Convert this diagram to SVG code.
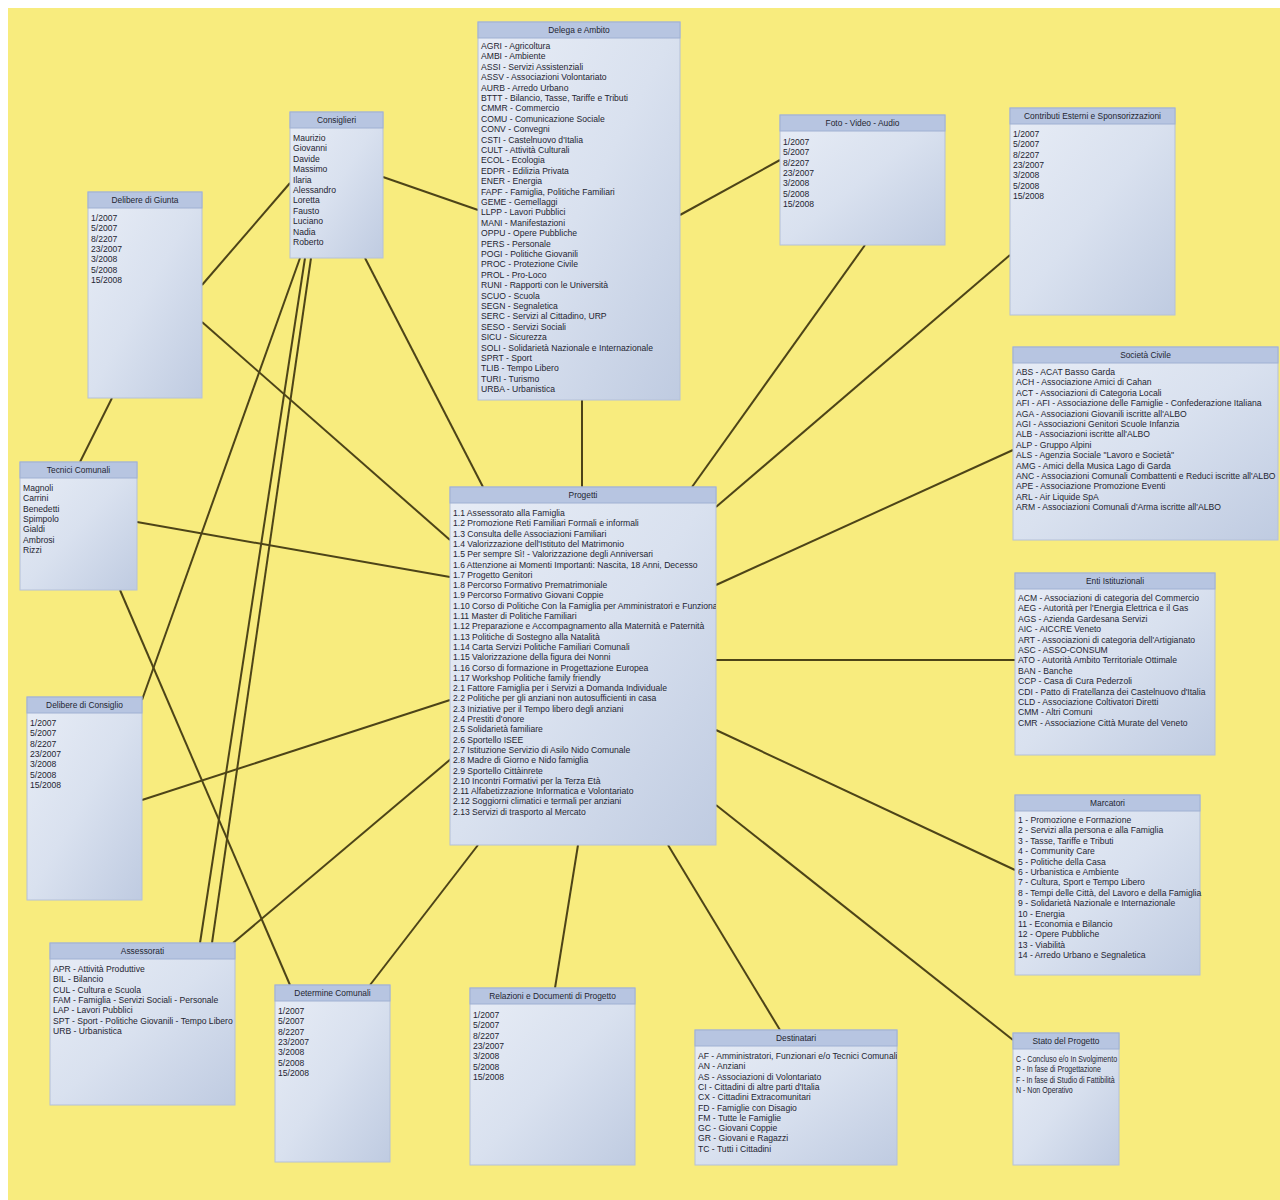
<svg xmlns="http://www.w3.org/2000/svg" width="1280" height="1200" viewBox="0 0 1280 1200">
<style>
.box{fill:url(#bg);stroke:#b4c0d8;stroke-width:1}
.hd{fill:#b7c5e1;stroke:#9fb0d2;stroke-width:1}
.tt{font-family:"Liberation Sans",Arial,sans-serif;font-size:8.4px;fill:#1f2531;text-anchor:middle}
.it{font-family:"Liberation Sans",Arial,sans-serif;font-size:8.6px;fill:#1f2531}
.cn line{stroke:#4d4418;stroke-width:2}
</style>
<defs>
<linearGradient id="bg" x1="0" y1="0" x2="1" y2="1">
<stop offset="0" stop-color="#e8edf6"/>
<stop offset="0.5" stop-color="#d9e1ef"/>
<stop offset="1" stop-color="#bfcbe1"/>
</linearGradient>
<clipPath id="cpP"><rect x="450" y="487" width="266" height="358"/></clipPath>
<clipPath id="cpD"><rect x="695" y="1030" width="202" height="135"/></clipPath>
<clipPath id="cpS"><rect x="1013" y="347" width="265" height="193"/></clipPath>
</defs>
<rect width="1280" height="1200" fill="#ffffff"/>
<rect x="8" y="8" width="1272" height="1192" fill="#f8ec7e"/>

<g class="cn">
<line x1="383" y1="177" x2="478" y2="210"/>
<line x1="290" y1="183" x2="202" y2="285"/>
<line x1="365" y1="258" x2="483" y2="487"/>
<line x1="300" y1="258" x2="142" y2="700"/>
<line x1="305" y1="258" x2="200" y2="943"/>
<line x1="311" y1="258" x2="212" y2="943"/>
<line x1="202" y1="322" x2="450" y2="540"/>
<line x1="80" y1="462" x2="112" y2="398"/>
<line x1="137" y1="522" x2="450" y2="577"/>
<line x1="120" y1="590" x2="290" y2="985"/>
<line x1="142" y1="800" x2="450" y2="700"/>
<line x1="233" y1="943" x2="452" y2="758"/>
<line x1="370" y1="985" x2="478" y2="845"/>
<line x1="555" y1="988" x2="578" y2="845"/>
<line x1="780" y1="1030" x2="668" y2="845"/>
<line x1="1013" y1="1040" x2="716" y2="805"/>
<line x1="1015" y1="870" x2="716" y2="730"/>
<line x1="1015" y1="660" x2="716" y2="660"/>
<line x1="1013" y1="450" x2="716" y2="585"/>
<line x1="1010" y1="255" x2="716" y2="507"/>
<line x1="865" y1="245" x2="692" y2="487"/>
<line x1="780" y1="160" x2="680" y2="215"/>
<line x1="582" y1="400" x2="582" y2="487"/>
</g>

<g id="delega">
<rect class="box" x="478" y="22" width="202" height="378"/>
<rect class="hd" x="478" y="22" width="202" height="16"/>
<text class="tt" x="579" y="33">Delega e Ambito</text>
<text class="it" x="481" y="49"><tspan x="481">AGRI - Agricoltura</tspan><tspan x="481" dy="10.4">AMBI - Ambiente</tspan><tspan x="481" dy="10.4">ASSI - Servizi Assistenziali</tspan><tspan x="481" dy="10.4">ASSV - Associazioni Volontariato</tspan><tspan x="481" dy="10.4">AURB - Arredo Urbano</tspan><tspan x="481" dy="10.4">BTTT - Bilancio, Tasse, Tariffe e Tributi</tspan><tspan x="481" dy="10.4">CMMR - Commercio</tspan><tspan x="481" dy="10.4">COMU - Comunicazione Sociale</tspan><tspan x="481" dy="10.4">CONV - Convegni</tspan><tspan x="481" dy="10.4">CSTI - Castelnuovo d'Italia</tspan><tspan x="481" dy="10.4">CULT - Attività Culturali</tspan><tspan x="481" dy="10.4">ECOL - Ecologia</tspan><tspan x="481" dy="10.4">EDPR - Edilizia Privata</tspan><tspan x="481" dy="10.4">ENER - Energia</tspan><tspan x="481" dy="10.4">FAPF - Famiglia, Politiche Familiari</tspan><tspan x="481" dy="10.4">GEME - Gemellaggi</tspan><tspan x="481" dy="10.4">LLPP - Lavori Pubblici</tspan><tspan x="481" dy="10.4">MANI - Manifestazioni</tspan><tspan x="481" dy="10.4">OPPU - Opere Pubbliche</tspan><tspan x="481" dy="10.4">PERS - Personale</tspan><tspan x="481" dy="10.4">POGI - Politiche Giovanili</tspan><tspan x="481" dy="10.4">PROC - Protezione Civile</tspan><tspan x="481" dy="10.4">PROL - Pro-Loco</tspan><tspan x="481" dy="10.4">RUNI - Rapporti con le Università</tspan><tspan x="481" dy="10.4">SCUO - Scuola</tspan><tspan x="481" dy="10.4">SEGN - Segnaletica</tspan><tspan x="481" dy="10.4">SERC - Servizi al Cittadino, URP</tspan><tspan x="481" dy="10.4">SESO - Servizi Sociali</tspan><tspan x="481" dy="10.4">SICU - Sicurezza</tspan><tspan x="481" dy="10.4">SOLI - Solidarietà Nazionale e Internazionale</tspan><tspan x="481" dy="10.4">SPRT - Sport</tspan><tspan x="481" dy="10.4">TLIB - Tempo Libero</tspan><tspan x="481" dy="10.4">TURI - Turismo</tspan><tspan x="481" dy="10.4">URBA - Urbanistica</tspan></text>
</g>

<g id="consiglieri">
<rect class="box" x="290" y="112" width="93" height="146"/>
<rect class="hd" x="290" y="112" width="93" height="16"/>
<text class="tt" x="336.5" y="123">Consiglieri</text>
<text class="it" x="293" y="141"><tspan x="293">Maurizio</tspan><tspan x="293" dy="10.4">Giovanni</tspan><tspan x="293" dy="10.4">Davide</tspan><tspan x="293" dy="10.4">Massimo</tspan><tspan x="293" dy="10.4">Ilaria</tspan><tspan x="293" dy="10.4">Alessandro</tspan><tspan x="293" dy="10.4">Loretta</tspan><tspan x="293" dy="10.4">Fausto</tspan><tspan x="293" dy="10.4">Luciano</tspan><tspan x="293" dy="10.4">Nadia</tspan><tspan x="293" dy="10.4">Roberto</tspan></text>
</g>

<g id="giunta">
<rect class="box" x="88" y="192" width="114" height="206"/>
<rect class="hd" x="88" y="192" width="114" height="16"/>
<text class="tt" x="145" y="203">Delibere di Giunta</text>
<text class="it" x="91" y="221"><tspan x="91">1/2007</tspan><tspan x="91" dy="10.3">5/2007</tspan><tspan x="91" dy="10.3">8/2207</tspan><tspan x="91" dy="10.3">23/2007</tspan><tspan x="91" dy="10.3">3/2008</tspan><tspan x="91" dy="10.3">5/2008</tspan><tspan x="91" dy="10.3">15/2008</tspan></text>
</g>

<g id="foto">
<rect class="box" x="780" y="115" width="165" height="130"/>
<rect class="hd" x="780" y="115" width="165" height="16"/>
<text class="tt" x="862.5" y="126">Foto - Video - Audio</text>
<text class="it" x="783" y="145"><tspan x="783">1/2007</tspan><tspan x="783" dy="10.3">5/2007</tspan><tspan x="783" dy="10.3">8/2207</tspan><tspan x="783" dy="10.3">23/2007</tspan><tspan x="783" dy="10.3">3/2008</tspan><tspan x="783" dy="10.3">5/2008</tspan><tspan x="783" dy="10.3">15/2008</tspan></text>
</g>

<g id="contributi">
<rect class="box" x="1010" y="108" width="165" height="207"/>
<rect class="hd" x="1010" y="108" width="165" height="16"/>
<text class="tt" x="1092.5" y="119">Contributi Esterni e Sponsorizzazioni</text>
<text class="it" x="1013" y="137"><tspan x="1013">1/2007</tspan><tspan x="1013" dy="10.3">5/2007</tspan><tspan x="1013" dy="10.3">8/2207</tspan><tspan x="1013" dy="10.3">23/2007</tspan><tspan x="1013" dy="10.3">3/2008</tspan><tspan x="1013" dy="10.3">5/2008</tspan><tspan x="1013" dy="10.3">15/2008</tspan></text>
</g>

<g id="societa">
<rect class="box" x="1013" y="347" width="265" height="193"/>
<rect class="hd" x="1013" y="347" width="265" height="16"/>
<text class="tt" x="1145.5" y="358">Società Civile</text>
<text class="it" x="1016" y="375" clip-path="url(#cpS)"><tspan x="1016">ABS - ACAT Basso Garda</tspan><tspan x="1016" dy="10.4">ACH - Associazione Amici di Cahan</tspan><tspan x="1016" dy="10.4">ACT - Associazioni di Categoria Locali</tspan><tspan x="1016" dy="10.4">AFI - AFI - Associazione delle Famiglie - Confederazione Italiana</tspan><tspan x="1016" dy="10.4">AGA - Associazioni Giovanili iscritte all'ALBO</tspan><tspan x="1016" dy="10.4">AGI - Associazioni Genitori Scuole Infanzia</tspan><tspan x="1016" dy="10.4">ALB - Associazioni iscritte all'ALBO</tspan><tspan x="1016" dy="10.4">ALP - Gruppo Alpini</tspan><tspan x="1016" dy="10.4">ALS - Agenzia Sociale "Lavoro e Società"</tspan><tspan x="1016" dy="10.4">AMG - Amici della Musica Lago di Garda</tspan><tspan x="1016" dy="10.4">ANC - Associazioni Comunali Combattenti e Reduci iscritte all'ALBO</tspan><tspan x="1016" dy="10.4">APE - Associazione Promozione Eventi</tspan><tspan x="1016" dy="10.4">ARL - Air Liquide SpA</tspan><tspan x="1016" dy="10.4">ARM - Associazioni Comunali d'Arma iscritte all'ALBO</tspan></text>
</g>

<g id="progetti">
<rect class="box" x="450" y="487" width="266" height="358"/>
<rect class="hd" x="450" y="487" width="266" height="16"/>
<text class="tt" x="583" y="498">Progetti</text>
<text class="it" x="453" y="516" clip-path="url(#cpP)"><tspan x="453">1.1 Assessorato alla Famiglia</tspan><tspan x="453" dy="10.3">1.2 Promozione Reti Familiari Formali e informali</tspan><tspan x="453" dy="10.3">1.3 Consulta delle Associazioni Familiari</tspan><tspan x="453" dy="10.3">1.4 Valorizzazione dell'Istituto del Matrimonio</tspan><tspan x="453" dy="10.3">1.5 Per sempre Sì! - Valorizzazione degli Anniversari</tspan><tspan x="453" dy="10.3">1.6 Attenzione ai Momenti Importanti: Nascita, 18 Anni, Decesso</tspan><tspan x="453" dy="10.3">1.7 Progetto Genitori</tspan><tspan x="453" dy="10.3">1.8 Percorso Formativo Prematrimoniale</tspan><tspan x="453" dy="10.3">1.9 Percorso Formativo Giovani Coppie</tspan><tspan x="453" dy="10.3">1.10 Corso di Politiche Con la Famiglia per Amministratori e Funzionari</tspan><tspan x="453" dy="10.3">1.11 Master di Politiche Familiari</tspan><tspan x="453" dy="10.3">1.12 Preparazione e Accompagnamento alla Maternità e Paternità</tspan><tspan x="453" dy="10.3">1.13 Politiche di Sostegno alla Natalità</tspan><tspan x="453" dy="10.3">1.14 Carta Servizi Politiche Familiari Comunali</tspan><tspan x="453" dy="10.3">1.15 Valorizzazione della figura dei Nonni</tspan><tspan x="453" dy="10.3">1.16 Corso di formazione in Progettazione Europea</tspan><tspan x="453" dy="10.3">1.17 Workshop Politiche family friendly</tspan><tspan x="453" dy="10.3">2.1 Fattore Famiglia per i Servizi a Domanda Individuale</tspan><tspan x="453" dy="10.3">2.2 Politiche per gli anziani non autosufficienti in casa</tspan><tspan x="453" dy="10.3">2.3 Iniziative per il Tempo libero degli anziani</tspan><tspan x="453" dy="10.3">2.4 Prestiti d'onore</tspan><tspan x="453" dy="10.3">2.5 Solidarietà familiare</tspan><tspan x="453" dy="10.3">2.6 Sportello ISEE</tspan><tspan x="453" dy="10.3">2.7 Istituzione Servizio di Asilo Nido Comunale</tspan><tspan x="453" dy="10.3">2.8 Madre di Giorno e Nido famiglia</tspan><tspan x="453" dy="10.3">2.9 Sportello Cittàinrete</tspan><tspan x="453" dy="10.3">2.10 Incontri Formativi per la Terza Età</tspan><tspan x="453" dy="10.3">2.11 Alfabetizzazione Informatica e Volontariato</tspan><tspan x="453" dy="10.3">2.12 Soggiorni climatici e termali per anziani</tspan><tspan x="453" dy="10.3">2.13 Servizi di trasporto al Mercato</tspan></text>
</g>

<g id="enti">
<rect class="box" x="1015" y="573" width="200" height="182"/>
<rect class="hd" x="1015" y="573" width="200" height="16"/>
<text class="tt" x="1115" y="584">Enti Istituzionali</text>
<text class="it" x="1018" y="601"><tspan x="1018">ACM - Associazioni di categoria del Commercio</tspan><tspan x="1018" dy="10.4">AEG - Autorità per l'Energia Elettrica e il Gas</tspan><tspan x="1018" dy="10.4">AGS - Azienda Gardesana Servizi</tspan><tspan x="1018" dy="10.4">AIC - AICCRE Veneto</tspan><tspan x="1018" dy="10.4">ART - Associazioni di categoria dell'Artigianato</tspan><tspan x="1018" dy="10.4">ASC - ASSO-CONSUM</tspan><tspan x="1018" dy="10.4">ATO - Autorità Ambito Territoriale Ottimale</tspan><tspan x="1018" dy="10.4">BAN - Banche</tspan><tspan x="1018" dy="10.4">CCP - Casa di Cura Pederzoli</tspan><tspan x="1018" dy="10.4">CDI - Patto di Fratellanza dei Castelnuovo d'Italia</tspan><tspan x="1018" dy="10.4">CLD - Associazione Coltivatori Diretti</tspan><tspan x="1018" dy="10.4">CMM - Altri Comuni</tspan><tspan x="1018" dy="10.4">CMR - Associazione Città Murate del Veneto</tspan></text>
</g>

<g id="marcatori">
<rect class="box" x="1015" y="795" width="185" height="180"/>
<rect class="hd" x="1015" y="795" width="185" height="16"/>
<text class="tt" x="1107.5" y="806">Marcatori</text>
<text class="it" x="1018" y="823"><tspan x="1018">1 - Promozione e Formazione</tspan><tspan x="1018" dy="10.4">2 - Servizi alla persona e alla Famiglia</tspan><tspan x="1018" dy="10.4">3 - Tasse, Tariffe e Tributi</tspan><tspan x="1018" dy="10.4">4 - Community Care</tspan><tspan x="1018" dy="10.4">5 - Politiche della Casa</tspan><tspan x="1018" dy="10.4">6 - Urbanistica e Ambiente</tspan><tspan x="1018" dy="10.4">7 - Cultura, Sport e Tempo Libero</tspan><tspan x="1018" dy="10.4">8 - Tempi delle Città, del Lavoro e della Famiglia</tspan><tspan x="1018" dy="10.4">9 - Solidarietà Nazionale e Internazionale</tspan><tspan x="1018" dy="10.4">10 - Energia</tspan><tspan x="1018" dy="10.4">11 - Economia e Bilancio</tspan><tspan x="1018" dy="10.4">12 - Opere Pubbliche</tspan><tspan x="1018" dy="10.4">13 - Viabilità</tspan><tspan x="1018" dy="10.4">14 - Arredo Urbano e Segnaletica</tspan></text>
</g>

<g id="tecnici">
<rect class="box" x="20" y="462" width="117" height="128"/>
<rect class="hd" x="20" y="462" width="117" height="16"/>
<text class="tt" x="78.5" y="473">Tecnici Comunali</text>
<text class="it" x="23" y="491"><tspan x="23">Magnoli</tspan><tspan x="23" dy="10.3">Carrini</tspan><tspan x="23" dy="10.3">Benedetti</tspan><tspan x="23" dy="10.3">Spimpolo</tspan><tspan x="23" dy="10.3">Gialdi</tspan><tspan x="23" dy="10.3">Ambrosi</tspan><tspan x="23" dy="10.3">Rizzi</tspan></text>
</g>

<g id="consiglio">
<rect class="box" x="27" y="697" width="115" height="203"/>
<rect class="hd" x="27" y="697" width="115" height="16"/>
<text class="tt" x="84.5" y="708">Delibere di Consiglio</text>
<text class="it" x="30" y="726"><tspan x="30">1/2007</tspan><tspan x="30" dy="10.3">5/2007</tspan><tspan x="30" dy="10.3">8/2207</tspan><tspan x="30" dy="10.3">23/2007</tspan><tspan x="30" dy="10.3">3/2008</tspan><tspan x="30" dy="10.3">5/2008</tspan><tspan x="30" dy="10.3">15/2008</tspan></text>
</g>

<g id="assessorati">
<rect class="box" x="50" y="943" width="185" height="162"/>
<rect class="hd" x="50" y="943" width="185" height="16"/>
<text class="tt" x="142.5" y="954">Assessorati</text>
<text class="it" x="53" y="972"><tspan x="53">APR - Attività Produttive</tspan><tspan x="53" dy="10.3">BIL - Bilancio</tspan><tspan x="53" dy="10.3">CUL - Cultura e Scuola</tspan><tspan x="53" dy="10.3">FAM - Famiglia - Servizi Sociali - Personale</tspan><tspan x="53" dy="10.3">LAP - Lavori Pubblici</tspan><tspan x="53" dy="10.3">SPT - Sport - Politiche Giovanili - Tempo Libero</tspan><tspan x="53" dy="10.3">URB - Urbanistica</tspan></text>
</g>

<g id="determine">
<rect class="box" x="275" y="985" width="115" height="177"/>
<rect class="hd" x="275" y="985" width="115" height="16"/>
<text class="tt" x="332.5" y="996">Determine Comunali</text>
<text class="it" x="278" y="1014"><tspan x="278">1/2007</tspan><tspan x="278" dy="10.3">5/2007</tspan><tspan x="278" dy="10.3">8/2207</tspan><tspan x="278" dy="10.3">23/2007</tspan><tspan x="278" dy="10.3">3/2008</tspan><tspan x="278" dy="10.3">5/2008</tspan><tspan x="278" dy="10.3">15/2008</tspan></text>
</g>

<g id="relazioni">
<rect class="box" x="470" y="988" width="165" height="177"/>
<rect class="hd" x="470" y="988" width="165" height="16"/>
<text class="tt" x="552.5" y="999">Relazioni e Documenti di Progetto</text>
<text class="it" x="473" y="1018"><tspan x="473">1/2007</tspan><tspan x="473" dy="10.3">5/2007</tspan><tspan x="473" dy="10.3">8/2207</tspan><tspan x="473" dy="10.3">23/2007</tspan><tspan x="473" dy="10.3">3/2008</tspan><tspan x="473" dy="10.3">5/2008</tspan><tspan x="473" dy="10.3">15/2008</tspan></text>
</g>

<g id="destinatari">
<rect class="box" x="695" y="1030" width="202" height="135"/>
<rect class="hd" x="695" y="1030" width="202" height="16"/>
<text class="tt" x="796" y="1041">Destinatari</text>
<text class="it" x="698" y="1059" clip-path="url(#cpD)"><tspan x="698">AF - Amministratori, Funzionari e/o Tecnici Comunali</tspan><tspan x="698" dy="10.3">AN - Anziani</tspan><tspan x="698" dy="10.3">AS - Associazioni di Volontariato</tspan><tspan x="698" dy="10.3">CI - Cittadini di altre parti d'Italia</tspan><tspan x="698" dy="10.3">CX - Cittadini Extracomunitari</tspan><tspan x="698" dy="10.3">FD - Famiglie con Disagio</tspan><tspan x="698" dy="10.3">FM - Tutte le Famiglie</tspan><tspan x="698" dy="10.3">GC - Giovani Coppie</tspan><tspan x="698" dy="10.3">GR - Giovani e Ragazzi</tspan><tspan x="698" dy="10.3">TC - Tutti i Cittadini</tspan></text>
</g>

<g id="stato">
<rect class="box" x="1013" y="1033" width="106" height="132"/>
<rect class="hd" x="1013" y="1033" width="106" height="16"/>
<text class="tt" x="1066" y="1044">Stato del Progetto</text>
<text class="it" x="1016" y="1062" transform="translate(1016 0) scale(0.82 1) translate(-1016 0)"><tspan x="1016">C - Concluso e/o In Svolgimento</tspan><tspan x="1016" dy="10.3">P - In fase di Progettazione</tspan><tspan x="1016" dy="10.3">F - In fase di Studio di Fattibilità</tspan><tspan x="1016" dy="10.3">N - Non Operativo</tspan></text>
</g>
</svg>
